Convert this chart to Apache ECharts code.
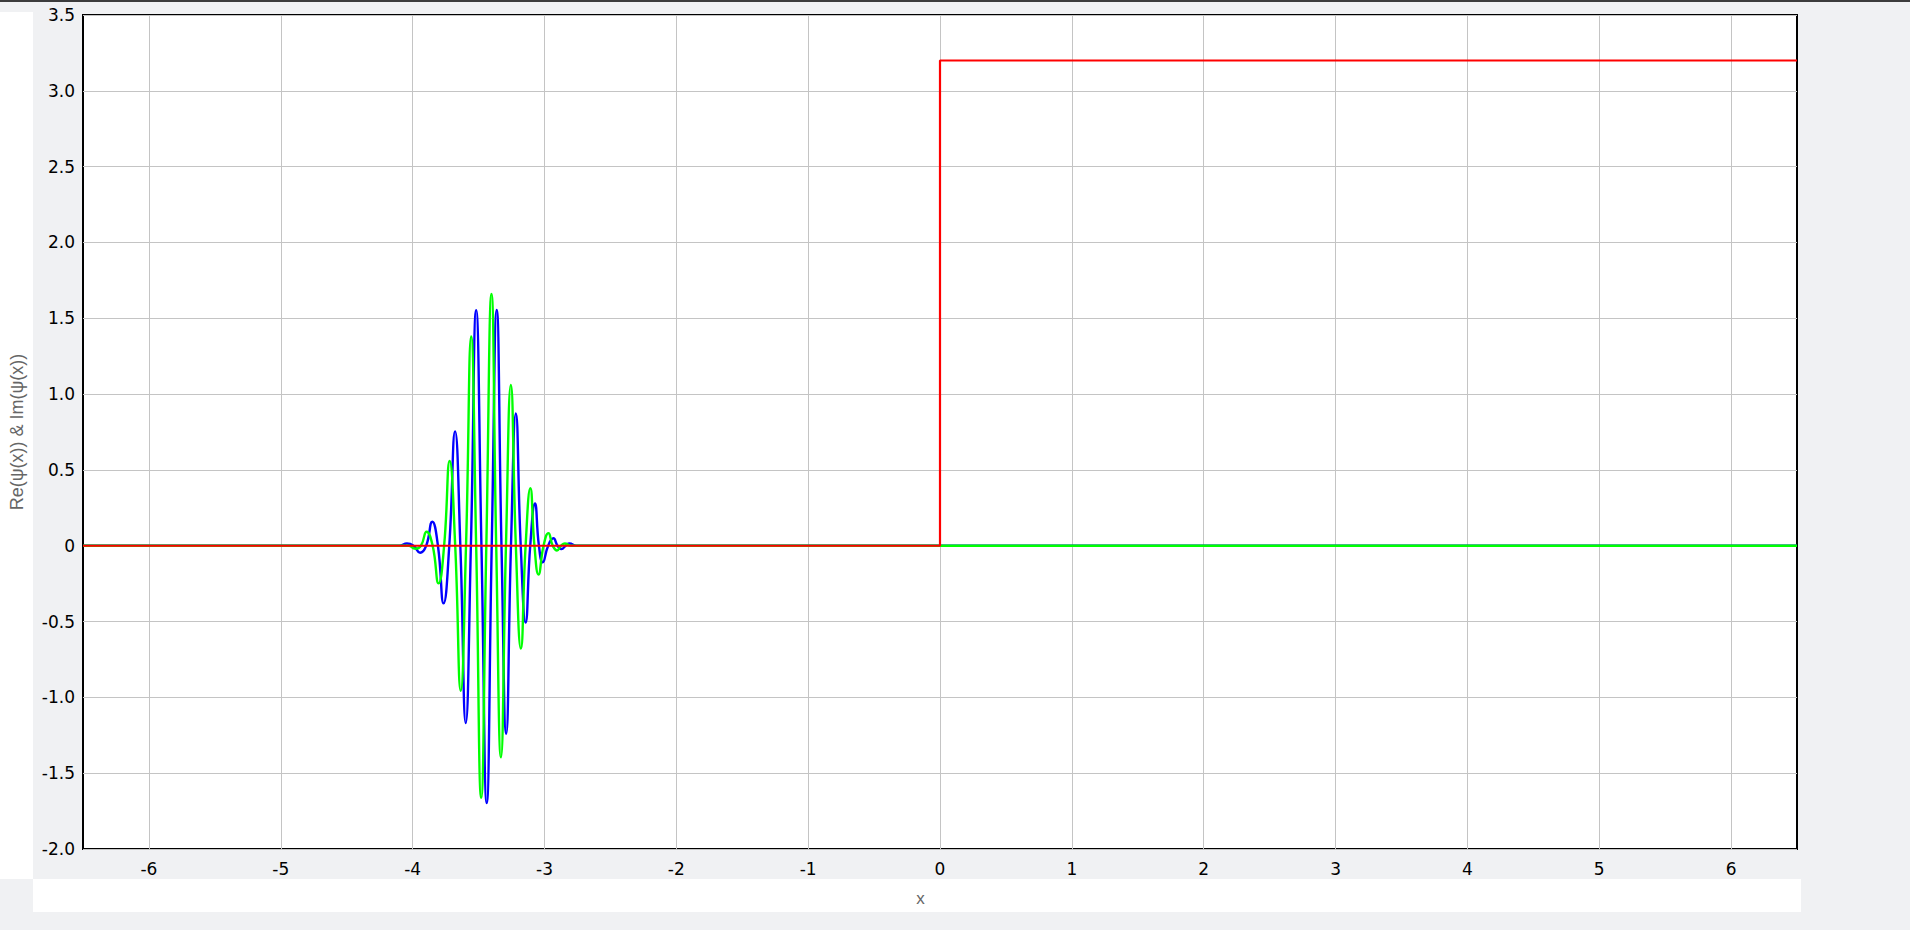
<!DOCTYPE html>
<html>
<head>
<meta charset="utf-8">
<script src="https://cdn.jsdelivr.net/npm/echarts@6/dist/echarts.min.js"></script>
<style>
  html, body { margin: 0; padding: 0; background: #f0f1f3; width: 1910px; height: 930px; overflow: hidden; }
  #topbar { position: absolute; left: 0; top: 0; width: 1910px; height: 2px; background: #3c3c3c; }
  #leftpanel { position: absolute; left: 0; top: 12px; width: 33px; height: 867px; background: #ffffff; }
  #bottompanel { position: absolute; left: 33px; top: 879px; width: 1768px; height: 33px; background: #ffffff; }
  #chart { position: absolute; left: 0; top: 0; width: 1910px; height: 930px; }
</style>
</head>
<body>
<div id="topbar"></div>
<div id="leftpanel"></div>
<div id="bottompanel"></div>
<div id="chart"></div>
<script>
// Tick labels
const xTicks = [-6, -5, -4, -3, -2, -1, 0, 1, 2, 3, 4, 5, 6];
const yTicks = [-2.0, -1.5, -1.0, -0.5, 0, 0.5, 1.0, 1.5, 2.0, 2.5, 3.0, 3.5];

// Blue wave
const reX = [-6.5, -4.10, -4.043, -3.993, -3.943, -3.897, -3.851, -3.808, -3.765, -3.722, -3.678, -3.638, -3.597, -3.558, -3.518, -3.478, -3.438, -3.400, -3.362, -3.326, -3.290, -3.254, -3.217, -3.180, -3.143, -3.108, -3.072, -3.042, -3.013, -2.972, -2.932, -2.901, -2.870, -2.840, -2.810, -2.76, 6.5];
const reY = [0, 0, 0.015, 0, -0.046, 0, 0.158, 0, -0.38, 0, 0.754, 0, -1.17, 0, 1.554, 0, -1.697, 0, 1.555, 0, -1.24, 0, 0.872, 0, -0.506, 0, 0.278, 0, -0.11, 0, 0.049, 0, -0.022, 0, 0.015, 0, 0];

// Green wave
const imX = [-6.5, -4.10, -4.03, -3.980, -3.937, -3.894, -3.848, -3.803, -3.761, -3.719, -3.677, -3.635, -3.595, -3.556, -3.518, -3.480, -3.441, -3.402, -3.366, -3.330, -3.292, -3.255, -3.217, -3.179, -3.143, -3.107, -3.076, -3.045, -3.007, -2.970, -2.937, -2.905, -2.875, -2.845, -2.80, 6.5];
const imY = [0, 0, 0, -0.02, 0, 0.092, 0, -0.248, 0, 0.559, 0, -0.957, 0, 1.38, 0, -1.662, 0, 1.66, 0, -1.396, 0, 1.06, 0, -0.678, 0, 0.379, 0, -0.19, 0, 0.083, 0, -0.031, 0, 0.015, 0, 0];

// Red potential step
const potX = [-6.5, 0, 0, 6.5];
const potY = [0, 0, 3.2, 3.2];

const zip = (xs, ys) => xs.map((x, i) => [x, ys[i]]);

const chart = echarts.init(document.getElementById('chart'), null, { renderer: 'svg', width: 1910, height: 930 });

const tickFont = { fontFamily: 'DejaVu Sans', fontSize: 17, color: '#000' };

chart.setOption({
  backgroundColor: 'transparent',
  animation: false,
  grid: {
    left: 78, top: 15, right: 113, bottom: 81,
    show: true, backgroundColor: '#ffffff', borderColor: '#000000', borderWidth: 2
  },
  xAxis: {
    type: 'value',
    min: -6.5, max: 6.5,
    name: 'x',
    nameLocation: 'middle',
    nameGap: 41,
    nameTextStyle: { fontFamily: 'Liberation Sans', fontSize: 17, color: '#666', padding: [0, 39, 0, 0] },
    axisLine: { show: false },
    axisTick: { show: false, customValues: xTicks },
    axisLabel: Object.assign({ customValues: xTicks, margin: 11, formatter: v => String(v) }, tickFont),
    splitLine: { show: true, lineStyle: { color: '#c4c4c4', width: 1 } }
  },
  yAxis: {
    type: 'value',
    min: yTicks[0], max: yTicks[yTicks.length - 1], interval: 0.5,
    name: 'Re(ψ(x)) & Im(ψ(x))',
    nameLocation: 'middle',
    nameRotate: 90,
    nameGap: 57,
    nameTextStyle: { fontFamily: 'Liberation Sans', fontSize: 18, color: '#666' },
    axisLine: { show: false },
    axisTick: { show: false },
    axisLabel: Object.assign({ margin: 8, formatter: v => (v === 0 ? '0' : v.toFixed(1)) }, tickFont),
    splitLine: { show: true, lineStyle: { color: '#c4c4c4', width: 1 } }
  },
  series: [
    { type: 'line', data: zip(reX, reY), smooth: 0.5, showSymbol: false, symbol: 'none',
      lineStyle: { color: '#0000ff', width: 2.4 }, itemStyle: { color: '#0000ff' } },
    { type: 'line', data: zip(imX, imY), smooth: 0.5, showSymbol: false, symbol: 'none',
      lineStyle: { color: '#00ff00', width: 2.4 }, itemStyle: { color: '#00ff00' } },
    { type: 'line', data: zip(potX, potY), showSymbol: false, symbol: 'none',
      lineStyle: { color: '#ff0000', width: 2.2 }, itemStyle: { color: '#ff0000' } }
  ]
});
</script>
</body>
</html>
